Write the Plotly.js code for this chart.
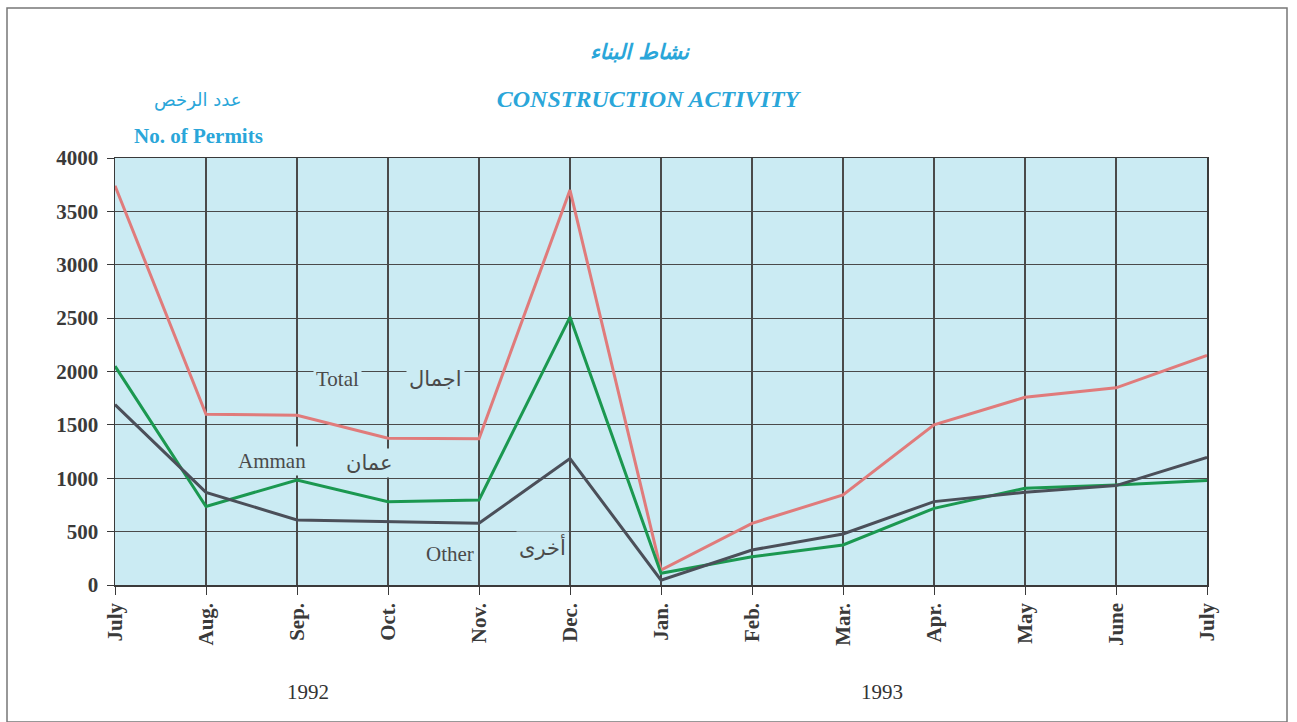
<!DOCTYPE html>
<html>
<head>
<meta charset="utf-8">
<script src="https://cdn.plot.ly/plotly-3.0.1.min.js"></script>
<style>html,body{margin:0;padding:0;background:#fff;}#chart{width:1297px;height:722px;}</style>
</head>
<body>
<div id="chart"></div>
<script>
const monthLabels = ["July","Aug.","Sep.","Oct.","Nov.","Dec.","Jan.","Feb.","Mar.","Apr.","May","June","July"];
const totalValues = [3740,1600,1590,1375,1370,3700,140,578,844,1500,1759,1847,2150];
const ammanValues = [2050,735,984,781,797,2510,110,265,375,718,906,937,978];
const otherValues = [1690,868,609,593,578,1185,45,328,478,781,868,931,1196];
const yearLabels = ["1992","1993"];

const xIdx = monthLabels.map((_, i) => i);
const plotBg = "#cbebf3";
const serif = "Liberation Serif, Times New Roman, DejaVu Serif, serif";
const arabic = "DejaVu Sans, Noto Sans, sans-serif";
const labelColor = "#4a4a4a";
const blue = "#2aa6d9";

const traces = [
  {x: xIdx, y: totalValues, name: "Total", mode: "lines", line: {color: "#e07b7b", width: 3}},
  {x: xIdx, y: ammanValues, name: "Amman", mode: "lines", line: {color: "#1b9850", width: 3}},
  {x: xIdx, y: otherValues, name: "Other", mode: "lines", line: {color: "#4b4f59", width: 3}}
];

function seriesLabel(text, x, y, font, size) {
  return {text: text, x: x, y: y, xref: "x", yref: "y", showarrow: false,
    xanchor: "center", yanchor: "middle",
    font: {family: font, size: size, color: labelColor}, bgcolor: plotBg, borderpad: 2};
}
function paperLabel(text, px, py, font) {
  return {text: text, x: (px-115)/1092, y: (585-py)/427, xref: "paper", yref: "paper",
    xanchor: "center", yanchor: "middle", showarrow: false, font: font};
}

const layout = {
  width: 1297, height: 722,
  paper_bgcolor: "#ffffff", plot_bgcolor: plotBg,
  margin: {l: 115, r: 90, t: 158, b: 137},
  showlegend: false,
  title: {text: "<b><i>CONSTRUCTION ACTIVITY</i></b>", x: (648-115)/1092, xanchor: "center", xref: "paper",
    y: 1 - 99/722, yanchor: "middle", yref: "container",
    font: {family: serif, size: 24, color: blue}},
  xaxis: {
    range: [0, 12], tickvals: xIdx, ticktext: monthLabels, tickangle: -90,
    showgrid: true, gridcolor: "#4a4a4a", gridwidth: 1.1,
    showline: true, linecolor: "#3a3a3a", linewidth: 1.5, mirror: true,
    ticks: "outside", ticklen: 8, tickcolor: "#3a3a3a",
    tickfont: {family: serif, size: 21, color: "#3a3a3a", weight: "bold"},
    zeroline: false, fixedrange: true
  },
  yaxis: {
    range: [0, 4000], tickvals: [0,500,1000,1500,2000,2500,3000,3500,4000],
    showgrid: true, gridcolor: "#4a4a4a", gridwidth: 1.1,
    showline: true, linecolor: "#3a3a3a", linewidth: 1.5, mirror: true,
    ticks: "outside", ticklen: 7, tickcolor: "#3a3a3a", ticklabelstandoff: 4,
    tickfont: {family: serif, size: 21, color: "#3a3a3a", weight: "bold"},
    zeroline: false, fixedrange: true
  },
  shapes: [
    {type: "rect", xref: "paper", yref: "paper", x0: (7-115)/1092, x1: (1287-115)/1092,
     y0: (585-722)/427, y1: (585-8)/427, line: {color: "#777", width: 1.5}, fillcolor: "rgba(0,0,0,0)", layer: "below"}
  ],
  annotations: [
    paperLabel("<i><b>نشاط البناء</b></i>", 640, 52, {family: arabic, size: 21, color: blue}),
    paperLabel("عدد الرخص", 198, 100, {family: arabic, size: 18, color: blue}),
    paperLabel("<b>No. of Permits</b>", 198, 136, {family: serif, size: 21, color: blue}),
    paperLabel(yearLabels[0], 308, 692, {family: serif, size: 21, color: "#333"}),
    paperLabel(yearLabels[1], 882, 692, {family: serif, size: 21, color: "#333"}),
    seriesLabel("Total", 2.45, 1934, serif, 21),
    seriesLabel("اجمال", 3.52, 1934, arabic, 21),
    seriesLabel("Amman", 1.73, 1165, serif, 21),
    seriesLabel("عمان", 2.80, 1147, arabic, 21),
    seriesLabel("Other", 3.68, 293, serif, 21),
    seriesLabel("أخرى", 4.70, 360, arabic, 21)
  ]
};

Plotly.newPlot("chart", traces, layout, {displayModeBar: false, staticPlot: true});
</script>
</body>
</html>
